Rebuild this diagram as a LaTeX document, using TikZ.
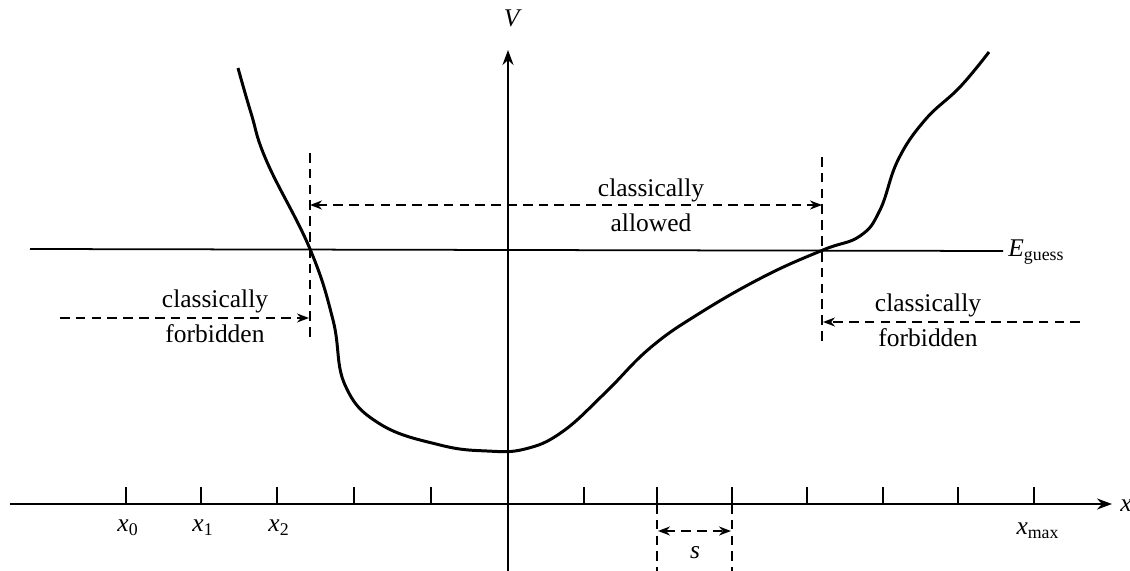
\documentclass[tikz,border=0pt]{standalone}
\usepackage{fontspec}
\setmainfont{Liberation Serif}
\usetikzlibrary{arrows.meta}
\newcommand{\sub}[2]{\textit{#1}\textsubscript{#2}}

\begin{document}
\begin{tikzpicture}[
  x=0.02cm, y=-0.02cm,
  lbl/.style={font=\fontsize{14.5}{20}\selectfont,align=center,inner sep=0pt},
  ax/.style={line width=1.2pt,-{Stealth[length=3mm,width=2.2mm]}},
  tick/.style={line width=1pt},
  guide/.style={line width=1.1pt,dash pattern=on 5.5pt off 3.5pt},
  darr/.style={guide,-{Stealth[length=2.4mm,width=1.8mm]}},
  ddarr/.style={guide,{Stealth[length=2.4mm,width=1.8mm]}-{Stealth[length=2.4mm,width=1.8mm]}}
]
\useasboundingbox (0,0) rectangle (1130,571);
% axes
\coordinate (xl) at (10,504);
\coordinate (xr) at (1112,504);
\coordinate (vb) at (508,571);
\coordinate (vt) at (508,50);
\draw[ax] (xl) -- (xr);
\draw[ax] (vb) -- (vt);
\node[lbl,anchor=west] (xlab) at (1120,506) {\textit{x}};
\node[lbl] (vlab) at (513,18) {\textit{V}};
\foreach \t in {126,201,277,354,431,584,657,732,807,883,958,1034}
  \draw[tick] (\t,504) -- (\t,487);
\node[lbl] (x0) at (128,528) {\sub{x}{0}};
\node[lbl] (x1) at (203,528) {\sub{x}{1}};
\node[lbl] (x2) at (279,528) {\sub{x}{2}};
\node[lbl] (xmax) at (1038,531) {\sub{x}{max}};
% energy guess
\coordinate (el) at (30,249);
\coordinate (er) at (1003,251);
\draw[line width=1pt] (el) -- (er);
\node[lbl,anchor=west] (eg) at (1008,252) {\sub{E}{guess}};
% turning points
\coordinate (lt) at (310,153);
\coordinate (lb) at (310,342);
\coordinate (rt) at (822,157);
\coordinate (rb) at (822,346);
\draw[guide] (lt) -- (lb);
\draw[guide] (rt) -- (rb);
\coordinate (al) at (310,205);
\coordinate (ar) at (822,205);
\draw[ddarr] (al) -- (ar);
\node[lbl] (allowed) at (651,205) {classically\\allowed};
\coordinate (lf) at (60,318);
\coordinate (lfe) at (309,318);
\draw[darr] (lf) -- (lfe);
\node[lbl] (lforb) at (215,316) {classically\\forbidden};
\coordinate (rf) at (1080,322);
\coordinate (rfe) at (823,322);
\draw[darr] (rf) -- (rfe);
\node[lbl] (rforb) at (928,320) {classically\\forbidden};
% step size
\coordinate (sa) at (657,504);
\coordinate (sb) at (732,504);
\coordinate (sa') at (657,571);
\coordinate (sb') at (732,571);
\draw[guide] (sa) -- (sa');
\draw[guide] (sb) -- (sb');
\coordinate (sl) at (658,531);
\coordinate (sr) at (731,531);
\draw[ddarr] (sl) -- (sr);
\node[lbl] (s) at (695,553) {\textit{s}};
% potential
\draw[line width=1.7pt] plot[smooth,tension=0.7] coordinates {
  (238,68) (251,113) (267,162) (310,249) (333,320)
  (345,385) (380,424) (440,445) (487,451) (525,449)
  (562,432) (605,393) (650,348) (700,313) (765,276) (823,250)
  (860,236) (880,210) (898,160) (925,120) (960,87) (989,52)};
\end{tikzpicture}
\end{document}
